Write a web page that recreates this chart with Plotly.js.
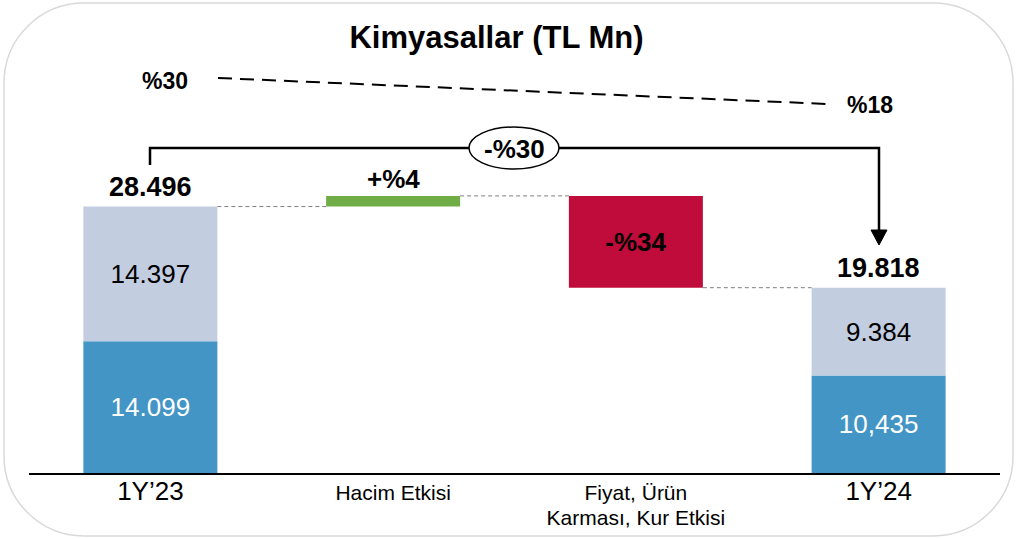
<!DOCTYPE html>
<html>
<head>
<meta charset="utf-8">
<script src="https://cdn.plot.ly/plotly-3.0.1.min.js"></script>
<style>
  html, body { margin: 0; padding: 0; background: #ffffff; }
  #chart { width: 1017px; height: 539px; }
</style>
</head>
<body>
<div id="chart"></div>
<script>
// ---------- data ----------
const categories = ['1Y’23', 'Hacim Etkisi', 'Fiyat, Ürün Karması, Kur Etkisi', '1Y’24'];
const tickLabels = ['1Y’23', 'Hacim Etkisi', 'Fiyat, Ürün<br>Karması, Kur Etkisi', '1Y’24'];
const periodCategories = ['1Y’23', '1Y’24'];
const lowerValues = [14099, 10435];
const upperValues = [14397, 9384];
const lowerLabels = ['14.099', '10,435'];
const upperLabels = ['14.397', '9.384'];
const startTotal = 28496;
const endTotal = 19818;
const totalLabels = ['28.496', '19.818'];
const volumeEffect = 1140;
const priceEffect = -9818;
const effectLabels = ['+%4', '-%34'];
const marginLabels = ['%30', '%18'];
const changeLabel = '-%30';

// ---------- layout geometry ----------
const W = 1017, H = 539;
const M = { l: 29, r: 17, t: 40, b: 66 };
const PW = W - M.l - M.r, PH = H - M.t - M.b;
const X = px => (px - M.l) / PW;          // pixel -> paper
const Y = py => (H - M.b - py) / PH;
const barWidth = 0.552;
const FONT = 'Liberation Sans, Arial, sans-serif';

const traces = [
  {
    type: 'bar', x: periodCategories, y: lowerValues,
    marker: { color: '#4395c6' },
    text: lowerLabels, textposition: 'inside', insidetextanchor: 'middle', textangle: 0,
    textfont: { family: FONT, size: 26, color: '#ffffff' },
    hoverinfo: 'skip', showlegend: false
  },
  {
    type: 'bar', x: periodCategories, y: upperValues, base: lowerValues,
    marker: { color: '#c3cde0' },
    text: upperLabels, textposition: 'inside', insidetextanchor: 'middle', textangle: 0,
    textfont: { family: FONT, size: 26, color: '#000000' },
    hoverinfo: 'skip', showlegend: false
  },
  {
    type: 'bar', x: [categories[1]], y: [volumeEffect], base: [startTotal],
    marker: { color: '#70ad47' },
    hoverinfo: 'skip', showlegend: false
  },
  {
    type: 'bar', x: [categories[2]], y: [priceEffect], base: [startTotal + volumeEffect],
    marker: { color: '#c00c3b' },
    text: ['<b>' + effectLabels[1] + '</b>'], textposition: 'inside', insidetextanchor: 'middle', textangle: 0,
    textfont: { family: FONT, size: 26, color: '#000000' },
    hoverinfo: 'skip', showlegend: false
  }
];

const r = 80, k = 0.552 * r;
const L = 4, R = 1013, T = 3, B = 536;
const borderPath =
  `M ${X(L + r)},${Y(T)} L ${X(R - r)},${Y(T)} ` +
  `C ${X(R - r + k)},${Y(T)} ${X(R)},${Y(T + r - k)} ${X(R)},${Y(T + r)} ` +
  `L ${X(R)},${Y(B - r)} ` +
  `C ${X(R)},${Y(B - r + k)} ${X(R - r + k)},${Y(B)} ${X(R - r)},${Y(B)} ` +
  `L ${X(L + r)},${Y(B)} ` +
  `C ${X(L + r - k)},${Y(B)} ${X(L)},${Y(B - r + k)} ${X(L)},${Y(B - r)} ` +
  `L ${X(L)},${Y(T + r)} ` +
  `C ${X(L)},${Y(T + r - k)} ${X(L + r - k)},${Y(T)} ${X(L + r)},${Y(T)} Z`;

const connector = { color: '#7f7f7f', width: 1, dash: '4px,3px' };
const shapes = [
  { type: 'path', xref: 'paper', yref: 'paper', path: borderPath, line: { color: '#d9d9d9', width: 1.5 }, layer: 'below' },
  // waterfall connectors
  { type: 'line', xref: 'x', yref: 'y', x0: 0 + barWidth / 2, x1: 1 - barWidth / 2, y0: startTotal, y1: startTotal, line: connector },
  { type: 'line', xref: 'x', yref: 'y', x0: 1 + barWidth / 2, x1: 2 - barWidth / 2, y0: startTotal + volumeEffect, y1: startTotal + volumeEffect, line: connector },
  { type: 'line', xref: 'x', yref: 'y', x0: 2 + barWidth / 2, x1: 3 - barWidth / 2, y0: endTotal, y1: endTotal, line: connector },
  // margin trend dashed line
  { type: 'line', xref: 'paper', yref: 'paper', x0: X(218), y0: Y(78), x1: X(828), y1: Y(104), line: { color: '#000000', width: 2, dash: '14px,8px' } },
  // bracket
  { type: 'path', xref: 'paper', yref: 'paper',
    path: `M ${X(150)},${Y(165)} L ${X(150)},${Y(148)} L ${X(879)},${Y(148)} L ${X(879)},${Y(232)}`,
    line: { color: '#000000', width: 2.5 } },
  { type: 'path', xref: 'paper', yref: 'paper',
    path: `M ${X(871)},${Y(230)} L ${X(887)},${Y(230)} L ${X(879)},${Y(245)} Z`,
    fillcolor: '#000000', line: { color: '#000000', width: 1 } },
  // ellipse
  { type: 'circle', xref: 'paper', yref: 'paper', x0: X(469), x1: X(559), y0: Y(127), y1: Y(169),
    fillcolor: '#ffffff', line: { color: '#000000', width: 1.5 } }
];

const bold = (t) => '<b>' + t + '</b>';
const annotations = [
  { xref: 'x', yref: 'y', x: 0, y: startTotal, text: bold(totalLabels[0]), showarrow: false, yanchor: 'bottom', yshift: 3,
    font: { family: FONT, size: 27, color: '#000000' } },
  { xref: 'x', yref: 'y', x: 3, y: endTotal, text: bold(totalLabels[1]), showarrow: false, yanchor: 'bottom', yshift: 3,
    font: { family: FONT, size: 27, color: '#000000' } },
  { xref: 'x', yref: 'y', x: 1, y: startTotal + volumeEffect, text: bold(effectLabels[0]), showarrow: false, yanchor: 'bottom', yshift: 0,
    font: { family: FONT, size: 26, color: '#000000' } },
  { xref: 'paper', yref: 'paper', x: X(164.5), y: Y(81), text: bold(marginLabels[0]), showarrow: false, xanchor: 'center', yanchor: 'middle',
    font: { family: FONT, size: 23, color: '#000000' } },
  { xref: 'paper', yref: 'paper', x: X(869.5), y: Y(105), text: bold(marginLabels[1]), showarrow: false, xanchor: 'center', yanchor: 'middle',
    font: { family: FONT, size: 23, color: '#000000' } },
  { xref: 'paper', yref: 'paper', x: X(514), y: Y(149), text: bold(changeLabel), showarrow: false, xanchor: 'center', yanchor: 'middle',
    font: { family: FONT, size: 26, color: '#000000' } }
];

const tickText = tickLabels.map((t, i) =>
  '<span style="font-size:' + ((i === 0 || i === 3) ? 26 : 21) + 'px">' +
  t.split('<br>').join('</span><br><span style="font-size:21px">') + '</span>');

const layout = {
  width: W, height: H,
  margin: M,
  paper_bgcolor: '#ffffff', plot_bgcolor: 'rgba(0,0,0,0)',
  barmode: 'overlay', bargap: 1 - barWidth,
  title: { text: '<b>Kimyasallar (TL Mn)</b>', x: 496.5 / W, xref: 'container', xanchor: 'center',
           y: 1 - 37 / H, yref: 'container', yanchor: 'middle',
           font: { family: FONT, size: 31, color: '#000000' } },
  xaxis: {
    type: 'category', categoryorder: 'array', categoryarray: categories,
    range: [-0.5, 3.5], tickvals: categories, ticktext: tickText,
    tickfont: { family: FONT, size: 19, color: '#000000' },
    ticklabelstandoff: 2,
    showline: true, linecolor: '#000000', linewidth: 2, ticks: '', showgrid: false, zeroline: false,
    fixedrange: true
  },
  yaxis: { range: [0, PH / 0.00935], visible: false, fixedrange: true },
  shapes: shapes,
  annotations: annotations,
  font: { family: FONT, color: '#000000' }
};

Plotly.newPlot('chart', traces, layout, { displayModeBar: false, staticPlot: true });
</script>
</body>
</html>
